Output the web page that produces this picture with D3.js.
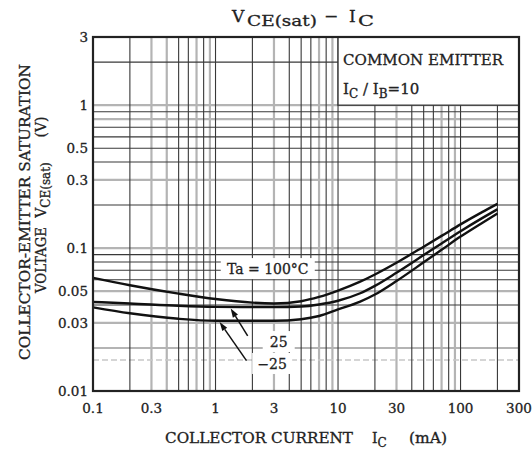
<!DOCTYPE html>
<html><head><meta charset="utf-8">
<script src="https://cdn.jsdelivr.net/npm/d3@7"></script>
<style>body{margin:0;background:#fff}svg{display:block}text{font-family:"DejaVu Serif",serif;fill:#222;stroke:#222;stroke-width:0.3px}</style>
</head><body>
<svg id="c" width="532" height="454"></svg>
<script>
// ---- data ----
const current = [0.1, 0.2, 0.5, 1, 2, 3, 5, 7, 10, 15, 20, 30, 50, 70, 100, 150, 200];            // IC (mA)
const vce100  = [0.062, 0.055, 0.048, 0.044, 0.0415, 0.041, 0.0425, 0.0455, 0.0504, 0.058, 0.0654, 0.079, 0.1023, 0.1217, 0.1466, 0.1786, 0.204];
const vce25   = [0.042, 0.041, 0.0395, 0.0388, 0.0386, 0.0386, 0.039, 0.0403, 0.0428, 0.0481, 0.0544, 0.0672, 0.0893, 0.1078, 0.1312, 0.162, 0.187];
const vceM25  = [0.0385, 0.035, 0.032, 0.031, 0.031, 0.031, 0.0318, 0.0335, 0.0372, 0.042, 0.0473, 0.0588, 0.0795, 0.0972, 0.1203, 0.150, 0.1745];
const xTicks = [0.1, 0.3, 1, 3, 10, 30, 100, 300];
const yTicks = [3, 1, 0.5, 0.3, 0.1, 0.05, 0.03, 0.01];
const xTickLabels = ["0.1", "0.3", "1", "3", "10", "30", "100", "300"];
const yTickLabels = ["3", "1", "0.5", "0.3", "0.1", "0.05", "0.03", "0.01"];
const yGrayValues = [1, 0.8, 0.3, 0.1, 0.05, 0.03, 0.02];
const xGrayMult = [3, 7, 9];

const svg = d3.select("#c");
const x = d3.scaleLog().domain([0.1, 300]).range([93, 519]);
const y = d3.scaleLog().domain([0.01, 3]).range([391, 37]);

// grid values
const xGrid = [], yGrid = [];
[0.1, 1, 10, 100].forEach(d => { for (let m = 1; m <= 9; m++) { const v = +(m * d).toPrecision(3); if (v > 0.1 && v < 300) xGrid.push({v, gray: xGrayMult.includes(m) || v === 0.4}); } });
[0.01, 0.1, 1].forEach(d => { for (let m = 1; m <= 9; m++) { const v = +(m * d).toPrecision(3); if (v > 0.01 && v < 3) yGrid.push({v, gray: yGrayValues.includes(v)}); } });

const g = svg.append("g");
g.selectAll("line.vg").data(xGrid.filter(d => d.gray)).join("line")
  .attr("x1", d => x(d.v)).attr("x2", d => x(d.v)).attr("y1", y(3)).attr("y2", y(0.01))
  .attr("stroke", "#b4b4b4").attr("stroke-width", 2.2);
g.selectAll("line.hg").data(yGrid.filter(d => d.gray)).join("line")
  .attr("y1", d => y(d.v)).attr("y2", d => y(d.v)).attr("x1", x(0.1)).attr("x2", x(300))
  .attr("stroke", "#b4b4b4").attr("stroke-width", 2.2);
g.append("line").attr("x1", x(0.1)).attr("x2", x(300)).attr("y1", y(0.0165)).attr("y2", y(0.0165))
  .attr("stroke", "#c8c8c8").attr("stroke-width", 1.5).attr("stroke-dasharray", "6,3");
g.selectAll("line.vb").data(xGrid.filter(d => !d.gray)).join("line")
  .attr("x1", d => x(d.v)).attr("x2", d => x(d.v)).attr("y1", y(3)).attr("y2", y(0.01))
  .attr("stroke", "#383838").attr("stroke-width", 1.1);
g.selectAll("line.hb").data(yGrid.filter(d => !d.gray)).join("line")
  .attr("y1", d => y(d.v)).attr("y2", d => y(d.v)).attr("x1", x(0.1)).attr("x2", x(300))
  .attr("stroke", "#383838").attr("stroke-width", 1.1);

// legend box
svg.append("rect").attr("x", x(10)).attr("y", y(3)).attr("width", x(300) - x(10)).attr("height", y(1) - y(3))
  .attr("fill", "#fff").attr("stroke", "#333").attr("stroke-width", 1.3);
svg.append("text").attr("x", x(11)).attr("y", y(1.9)).attr("font-size", 14.5).attr("textLength", 160).attr("lengthAdjust", "spacingAndGlyphs").text("COMMON EMITTER");
const lt = svg.append("text").attr("x", x(11)).attr("y", y(1.2)).attr("font-size", 15);
lt.append("tspan").text("I");
lt.append("tspan").attr("font-size", 12).attr("dy", 4).text("C");
lt.append("tspan").attr("dy", -4).text(" / I");
lt.append("tspan").attr("font-size", 12).attr("dy", 4).text("B");
lt.append("tspan").attr("dy", -4).text("=10");

// white patches behind annotations
const labels = [
  {t: "Ta = 100°C", I: 2.67, V: 0.0658, w: 94},
  {t: "25", I: 3.28, V: 0.0203, w: 32},
  {t: "\u221225", I: 2.9, V: 0.01426, w: 40}
];
svg.selectAll("rect.lb").data(labels).join("rect")
  .attr("x", d => x(d.I) - d.w / 2).attr("y", d => y(d.V) - 16).attr("width", d => d.w).attr("height", 21).attr("fill", "#fff");

// curves
const line = d3.line().x((d, i) => x(current[i])).y(d => y(d)).curve(d3.curveMonotoneX);
[vce100, vce25, vceM25].forEach(s => {
  svg.append("path").attr("d", line(s)).attr("fill", "none").attr("stroke", "#111").attr("stroke-width", 2.4);
});

// annotation text
svg.selectAll("text.lb").data(labels).join("text")
  .attr("x", d => x(d.I)).attr("y", d => y(d.V)).attr("text-anchor", "middle").attr("font-size", 14).text(d => d.t);

// arrows
const arrows = [
  {I0: 1.83, V0: 0.0243, I1: 1.33, V1: 0.0378},
  {I0: 1.79, V0: 0.0163, I1: 1.08, V1: 0.0304}
];
arrows.forEach(a => {
  const x0 = x(a.I0), y0 = y(a.V0), x1 = x(a.I1), y1 = y(a.V1);
  const ang = Math.atan2(y1 - y0, x1 - x0), L = 9, W = 3;
  const bx = x1 - L * Math.cos(ang), by = y1 - L * Math.sin(ang);
  svg.append("line").attr("x1", x0).attr("y1", y0).attr("x2", bx).attr("y2", by).attr("stroke", "#111").attr("stroke-width", 1.5);
  svg.append("path").attr("d", `M${x1},${y1}L${bx + W * Math.sin(ang)},${by - W * Math.cos(ang)}L${bx - W * Math.sin(ang)},${by + W * Math.cos(ang)}Z`).attr("fill", "#111");
});

// frame
svg.append("rect").attr("x", x(0.1)).attr("y", y(3)).attr("width", x(300) - x(0.1)).attr("height", y(0.01) - y(3))
  .attr("fill", "none").attr("stroke", "#222").attr("stroke-width", 2.2);

// tick labels
svg.selectAll("text.xt").data(xTicks).join("text")
  .attr("x", d => x(d)).attr("y", y(0.01) + 22).attr("text-anchor", "middle").attr("font-size", 13.5)
  .text((d, i) => xTickLabels[i]);
svg.selectAll("text.yt").data(yTicks).join("text")
  .attr("x", x(0.1) - 5).attr("y", d => y(d) + 5).attr("text-anchor", "end").attr("font-size", 13.5)
  .text((d, i) => yTickLabels[i]);

// title
svg.append("text").attr("x", 232).attr("y", 22).attr("font-size", 17).text("V");
svg.append("text").attr("x", 247).attr("y", 26).attr("font-size", 15).attr("textLength", 70).attr("lengthAdjust", "spacingAndGlyphs").text("CE(sat)");
svg.append("text").attr("x", 331).attr("y", 22).attr("font-size", 17).attr("text-anchor", "middle").text("\u2212");
svg.append("text").attr("x", 349).attr("y", 22).attr("font-size", 17).text("I");
svg.append("text").attr("x", 358).attr("y", 26).attr("font-size", 15).attr("textLength", 16).attr("lengthAdjust", "spacingAndGlyphs").text("C");

// x axis title
const xt = svg.append("text").attr("y", 443).attr("font-size", 14);
xt.append("tspan").attr("x", 165).attr("textLength", 188).attr("lengthAdjust", "spacingAndGlyphs").text("COLLECTOR CURRENT");
xt.append("tspan").attr("x", 372).text("I");
xt.append("tspan").attr("font-size", 12).attr("dy", 4).text("C");
xt.append("tspan").attr("x", 409).attr("dy", -4).attr("textLength", 38).attr("lengthAdjust", "spacingAndGlyphs").text("(mA)");

// y axis title
svg.append("text").attr("transform", "translate(30,212) rotate(-90)").attr("text-anchor", "middle")
  .attr("font-size", 14).attr("textLength", 296).attr("lengthAdjust", "spacingAndGlyphs").text("COLLECTOR-EMITTER SATURATION");
svg.append("text").attr("transform", "translate(46,260) rotate(-90)").attr("text-anchor", "middle")
  .attr("font-size", 14).attr("textLength", 66).attr("lengthAdjust", "spacingAndGlyphs").text("VOLTAGE");
const yv = svg.append("text").attr("transform", "translate(46,190) rotate(-90)").attr("text-anchor", "middle").attr("font-size", 14);
yv.append("tspan").text("V");
yv.append("tspan").attr("font-size", 12).attr("dy", 4).text("CE(sat)");
svg.append("text").attr("transform", "translate(46,127) rotate(-90)").attr("text-anchor", "middle").attr("font-size", 14).text("(V)");
</script>
</body></html>
